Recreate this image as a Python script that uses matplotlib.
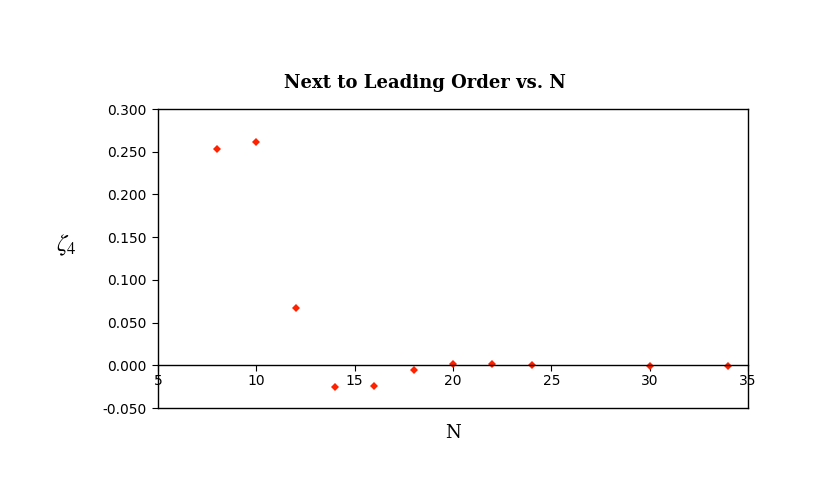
import matplotlib
matplotlib.use("Agg")
import matplotlib.pyplot as plt

# data
n_values = [8, 10, 12, 14, 16, 18, 20, 22, 24, 30, 34]
zeta4 = [0.253, 0.261, 0.067, -0.0255, -0.0245, -0.006, 0.001, 0.001, 0.000, -0.0005, -0.0005]

x_ticks = [5, 10, 15, 20, 25, 30, 35]
y_ticks = [-0.05, 0.0, 0.05, 0.10, 0.15, 0.20, 0.25, 0.30]

plt.rcParams["mathtext.fontset"] = "stix"

fig = plt.figure(figsize=(8.17, 4.91), dpi=100)
ax = fig.add_axes([0.1934, 0.169, 0.7222, 0.609])

ax.plot(n_values, zeta4, linestyle="none", marker="D", markersize=4,
        color="#ff2200", markeredgewidth=0)

ax.set_xlim(5, 35)
ax.set_ylim(-0.05, 0.30)
ax.set_xticks(x_ticks)
ax.set_yticks(y_ticks)
ax.set_yticklabels([f"{v:.3f}" for v in y_ticks], fontsize=10, family="DejaVu Sans")
ax.set_xticklabels([str(v) for v in x_ticks], fontsize=10, family="DejaVu Sans")

# x axis sits on zero, box still drawn around the plot
ax.spines["bottom"].set_position(("data", 0))
ax.axhline(-0.05, color="black", linewidth=1.0, clip_on=False)
for s in ax.spines.values():
    s.set_linewidth(1.0)
ax.tick_params(axis="x", direction="out", length=4, pad=2)
ax.tick_params(axis="y", direction="out", length=4, pad=4)

fig.text(425 / 817, 1 - 83 / 491, "Next to Leading Order vs. N", ha="center", va="center",
         fontsize=13, fontweight="bold", family="DejaVu Serif")
fig.text(453 / 817, 1 - 433 / 491, "N", ha="center", va="center",
         fontsize=13, family="DejaVu Serif")
fig.text(66 / 817, 1 - 245 / 491, r"$\zeta_4$", ha="center", va="center", fontsize=17)

fig.savefig("out.png", dpi=100)
